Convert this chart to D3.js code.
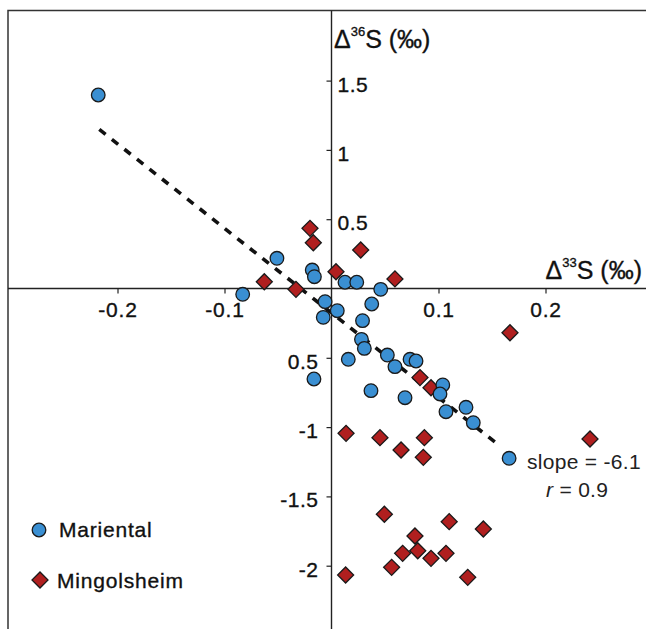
<!DOCTYPE html>
<html>
<head>
<meta charset="utf-8">
<script src="https://cdn.jsdelivr.net/npm/d3@7"></script>
<style>
  body { margin: 0; background: #fff; }
  svg { font-family: Arial, "Liberation Sans", Helvetica, sans-serif; }
  .lbl { stroke: #111; stroke-width: 0.35px; fill: #111; }
</style>
</head>
<body>
<svg id="chart"></svg>
<script>
var width = 646,
    height = 629;

// Mariental (circles)
const marientalX = [-0.218, -0.051, -0.018, -0.016, -0.083, 0.0126, 0.0236, 0.046, -0.006, 0.0054,
                    -0.0077, 0.0376, 0.029, 0.028, 0.0307, 0.0157, -0.0164, 0.0522, 0.0593, 0.0734,
                    0.079, 0.0369, 0.0687, 0.104, 0.1014, 0.107, 0.1257, 0.1325, 0.166];
const marientalY = [1.396, 0.218, 0.133, 0.085, -0.042, 0.045, 0.045, -0.006, -0.095, -0.16,
                    -0.208, -0.112, -0.232, -0.367, -0.432, -0.511, -0.653, -0.48, -0.564, -0.511,
                    -0.523, -0.737, -0.788, -0.696, -0.761, -0.889, -0.857, -0.968, -1.225];

// Mingolsheim (diamonds)
const mingolsheimX = [-0.0201, -0.017, 0.0273, 0.0042, 0.0593, -0.0628, -0.0332, 0.1668, 0.0827, 0.093,
                      0.0136, 0.0453, 0.065, 0.0868, 0.0858, 0.2416, 0.0494, 0.110, 0.1419, 0.078,
                      0.0665, 0.0806, 0.093, 0.107, 0.0562, 0.0132, 0.1273];
const mingolsheimY = [0.434, 0.33, 0.278, 0.121, 0.069, 0.049, -0.006, -0.319, -0.643, -0.716,
                      -1.045, -1.076, -1.165, -1.076, -1.218, -1.086, -1.629, -1.682, -1.735, -1.786,
                      -1.911, -1.892, -1.947, -1.911, -2.012, -2.067, -2.084];

// regression (Mariental)
const fitSlope = -6.1,
      fitIntercept = -0.176,
      fitRange = [-0.217, 0.1575];

const xTicks = [-0.2, -0.1, 0.1, 0.2];
const yTicks = [1.5, 1, 0.5, -0.5, -1, -1.5, -2];
const yTickLabels = ["1.5", "1", "0.5", "0.5", "-1", "-1.5", "-2"];

const svg = d3.select("#chart")
  .attr("width", width)
  .attr("height", height);

var x = d3.scaleLinear()
  .domain([-0.3, 0.3])
  .range([10.5, 652.5]);

var y = d3.scaleLinear()
  .domain([-2.5, 2])
  .range([635, 11.3]);

// frame (top + left)
svg.append("path")
  .attr("d", "M8,629V10.5H646")
  .attr("fill", "none")
  .attr("stroke", "#333")
  .attr("stroke-width", 1.5);

// axes through origin
svg.append("line")
  .attr("x1", 8).attr("x2", width)
  .attr("y1", y(0)).attr("y2", y(0))
  .attr("stroke", "#222").attr("stroke-width", 1.4);

svg.append("line")
  .attr("x1", x(0)).attr("x2", x(0))
  .attr("y1", 10.5).attr("y2", height)
  .attr("stroke", "#222").attr("stroke-width", 1.4);

var xAxis = svg.append("g")
  .attr("transform", "translate(0," + y(0) + ")")
  .call(d3.axisBottom(x).tickValues(xTicks).tickSize(5).tickPadding(9)
    .tickFormat(d3.format("")));
xAxis.select(".domain").remove();
xAxis.selectAll("line").attr("stroke", "#222").attr("stroke-width", 1.2);
xAxis.selectAll("text")
  .attr("class", "lbl")
  .attr("font-size", 21)
  .attr("font-family", "Arial, 'Liberation Sans', sans-serif")
  .attr("letter-spacing", 0.8)
  .text(d => d < 0 ? "-" + Math.abs(d) : d);

var yAxis = svg.append("g")
  .attr("transform", "translate(" + x(0) + ",0)")
  .call(d3.axisLeft(y).tickValues(yTicks).tickSize(5).tickPadding(8)
    .tickFormat((d, i) => yTickLabels[i]));
yAxis.select(".domain").remove();
yAxis.selectAll("line").attr("stroke", "#222").attr("stroke-width", 1.2);
yAxis.selectAll("text")
  .attr("class", "lbl")
  .attr("font-size", 21)
  .attr("font-family", "Arial, 'Liberation Sans', sans-serif")
  .attr("letter-spacing", 0.5)
  .attr("dy", "0.5em");
// positive labels sit right of the axis
yAxis.selectAll(".tick").filter(d => d > 0).select("text")
  .attr("x", 6)
  .attr("text-anchor", "start");

// axis titles
var yTitle = svg.append("text")
  .attr("class", "lbl")
  .attr("x", 334).attr("y", 48)
  .attr("font-size", 25);
yTitle.append("tspan").text("\u0394");
yTitle.append("tspan").attr("font-size", 13).attr("dy", -12).text("36");
yTitle.append("tspan").attr("dy", 12).text("S (\u2030)");

var xTitle = svg.append("text")
  .attr("class", "lbl")
  .attr("x", 642).attr("y", 279)
  .attr("text-anchor", "end")
  .attr("font-size", 25);
xTitle.append("tspan").text("\u0394");
xTitle.append("tspan").attr("font-size", 13).attr("dy", -12).text("33");
xTitle.append("tspan").attr("dy", 12).text("S (\u2030)");

// regression line
svg.append("line")
  .attr("x1", x(fitRange[0])).attr("y1", y(fitSlope * fitRange[0] + fitIntercept))
  .attr("x2", x(fitRange[1])).attr("y2", y(fitSlope * fitRange[1] + fitIntercept))
  .attr("stroke", "#111")
  .attr("stroke-width", 3.6)
  .attr("stroke-dasharray", "8,8");

var diamond = d3.symbol().type(d3.symbolSquare).size(128);

// Mingolsheim diamonds
svg.selectAll(".ming")
  .data(mingolsheimX.map((d, i) => [d, mingolsheimY[i]]))
  .enter().append("path")
  .attr("class", "ming")
  .attr("d", diamond)
  .attr("transform", d => "translate(" + x(d[0]) + "," + y(d[1]) + ") rotate(45)")
  .attr("fill", "#b01f1f")
  .attr("stroke", "#1a1a1a")
  .attr("stroke-width", 1.3);

// Mariental circles
svg.selectAll(".mar")
  .data(marientalX.map((d, i) => [d, marientalY[i]]))
  .enter().append("circle")
  .attr("class", "mar")
  .attr("cx", d => x(d[0]))
  .attr("cy", d => y(d[1]))
  .attr("r", 6.8)
  .attr("fill", "#3a8fd2")
  .attr("stroke", "#1a1a1a")
  .attr("stroke-width", 1.3);

// fit annotation
svg.append("text")
  .attr("x", 527).attr("y", 469)
  .attr("font-size", 21)
  .attr("letter-spacing", 0.3)
  .attr("fill", "#222")
  .text("slope = -6.1");

var rText = svg.append("text")
  .attr("x", 546).attr("y", 497)
  .attr("font-size", 21)
  .attr("letter-spacing", 0.3)
  .attr("fill", "#222");
rText.append("tspan").attr("font-style", "italic").text("r");
rText.append("tspan").text(" = 0.9");

// legend
var legend = svg.append("g");
legend.append("circle")
  .attr("cx", 39).attr("cy", 530).attr("r", 6.8)
  .attr("fill", "#3a8fd2").attr("stroke", "#1a1a1a").attr("stroke-width", 1.3);
legend.append("text")
  .attr("class", "lbl")
  .attr("x", 59).attr("y", 537)
  .attr("font-size", 21)
  .attr("letter-spacing", 0.8)
  .text("Mariental");
legend.append("path")
  .attr("d", diamond)
  .attr("transform", "translate(40,580) rotate(45)")
  .attr("fill", "#b01f1f").attr("stroke", "#1a1a1a").attr("stroke-width", 1.3);
legend.append("text")
  .attr("class", "lbl")
  .attr("x", 57).attr("y", 588)
  .attr("font-size", 21)
  .attr("letter-spacing", 0.8)
  .text("Mingolsheim");
</script>
</body>
</html>
